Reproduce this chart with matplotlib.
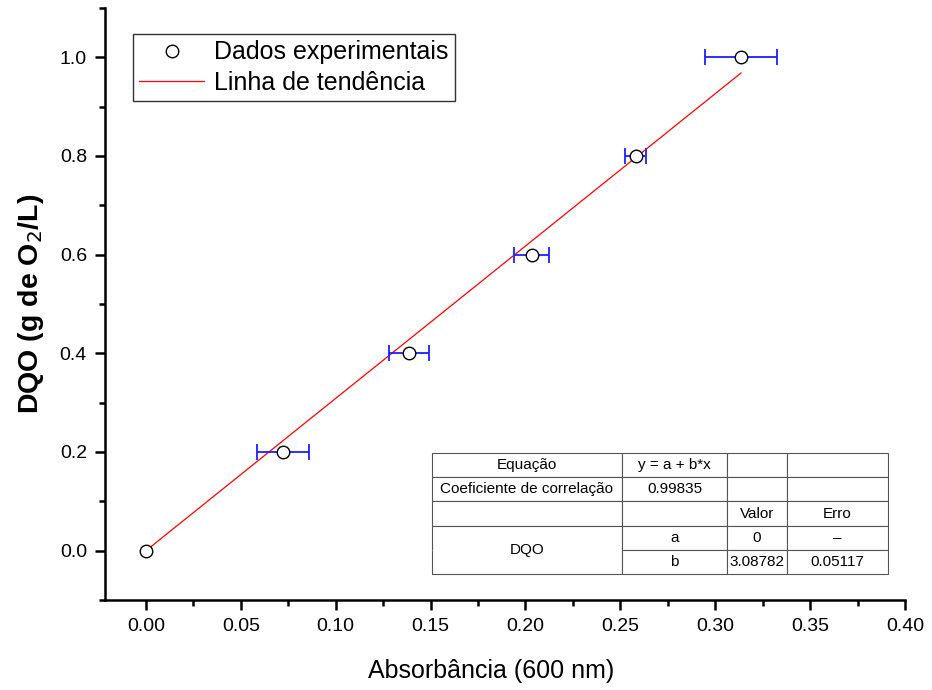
import numpy as np
import matplotlib
matplotlib.use('Agg')
import matplotlib.pyplot as plt
from matplotlib.ticker import MultipleLocator

# dados
absorbancia = [0.0, 0.0722, 0.1386, 0.2034, 0.2582, 0.3136]
dqo = [0.0, 0.2, 0.4, 0.6, 0.8, 1.0]
erro_x = [0.0, 0.0137, 0.0105, 0.0092, 0.0055, 0.019]
coef_a = 0.0
coef_b = 3.08782

tabela = [
    ['Equação', 'y = a + b*x', '', ''],
    ['Coeficiente de correlação', '0.99835', '', ''],
    ['', '', 'Valor', 'Erro'],
    ['', 'a', '0', '–'],
    ['', 'b', '3.08782', '0.05117'],
]

plt.rcParams['font.family'] = ['Liberation Sans', 'DejaVu Sans']

fig = plt.figure(figsize=(9.32, 6.9), dpi=100)
ax = fig.add_axes([105/932, 90/690, 800/932, 592/690])

xfit = np.array([0.0, absorbancia[-1]])
linha, = ax.plot(xfit, coef_a + coef_b*xfit, color='red', lw=0.9, zorder=2)
# o ponto (0,0) nao tem barra de erro
ax.errorbar(absorbancia, dqo, xerr=erro_x, fmt='none', ecolor='#1f1fff', elinewidth=1.3,
            capsize=5.5, capthick=1.3, errorevery=(1, 1), zorder=3)
pontos, = ax.plot(absorbancia, dqo, 'o', mfc='white', mec='black', ms=9, mew=1.0, zorder=4)

ax.set_xlim(-0.0216, 0.40)
ax.set_ylim(-0.1, 1.1)
ax.xaxis.set_minor_locator(MultipleLocator(0.025))
ax.yaxis.set_minor_locator(MultipleLocator(0.1))
ax.set_xticks(np.arange(0, 0.401, 0.05))
ax.set_xticklabels(['%.2f' % v for v in np.arange(0, 0.401, 0.05)])
ax.set_yticks(np.arange(0, 1.01, 0.2))
ax.set_yticklabels(['%.1f' % v for v in np.arange(0, 1.01, 0.2)])

for s in ['top', 'right']:
    ax.spines[s].set_visible(False)
for s in ['left', 'bottom']:
    ax.spines[s].set_linewidth(1.8)
ax.tick_params(which='major', direction='out', length=7, width=1.8, labelsize=14, pad=6)
ax.tick_params(which='minor', direction='out', length=4, width=1.8)

ax.set_xlabel('Absorbância (600 nm)', fontsize=18)
ax.xaxis.set_label_coords(0.4825, -0.1)
ax.set_ylabel('DQO (g de O$_2$/L)', fontsize=20.5, fontweight='bold', labelpad=10)

leg = ax.legend([pontos, linha], ['Dados experimentais', 'Linha de tendência'],
                loc='upper left', bbox_to_anchor=(0.035, 0.956),
                fontsize=18, frameon=True, fancybox=False, edgecolor='black',
                borderpad=0.25, handlelength=2.6, labelspacing=0.25, handletextpad=0.4,
                borderaxespad=0)
leg.get_frame().set_linewidth(1.0)

# tabela de ajuste
x0 = (432-105)/800
y0 = (600-574)/592
w = (888-432)/800
h = (574-453)/592
tab = ax.table(cellText=tabela, cellLoc='center',
               colWidths=[190, 105, 60, 101], bbox=[x0, y0, w, h])
tab.auto_set_font_size(False)
tab.set_fontsize(11)
for (r, c), cell in tab.get_celld().items():
    cell.set_linewidth(0.8)
    cell.set_edgecolor('#555555')
    cell.set_facecolor('white')
tab[3, 0].visible_edges = 'LTR'
tab[4, 0].visible_edges = 'LBR'
ax.text(x0 + w*190/456/2, y0 + h*0.2, 'DQO', transform=ax.transAxes,
        ha='center', va='center', fontsize=11)

fig.savefig('out.png', dpi=100)
